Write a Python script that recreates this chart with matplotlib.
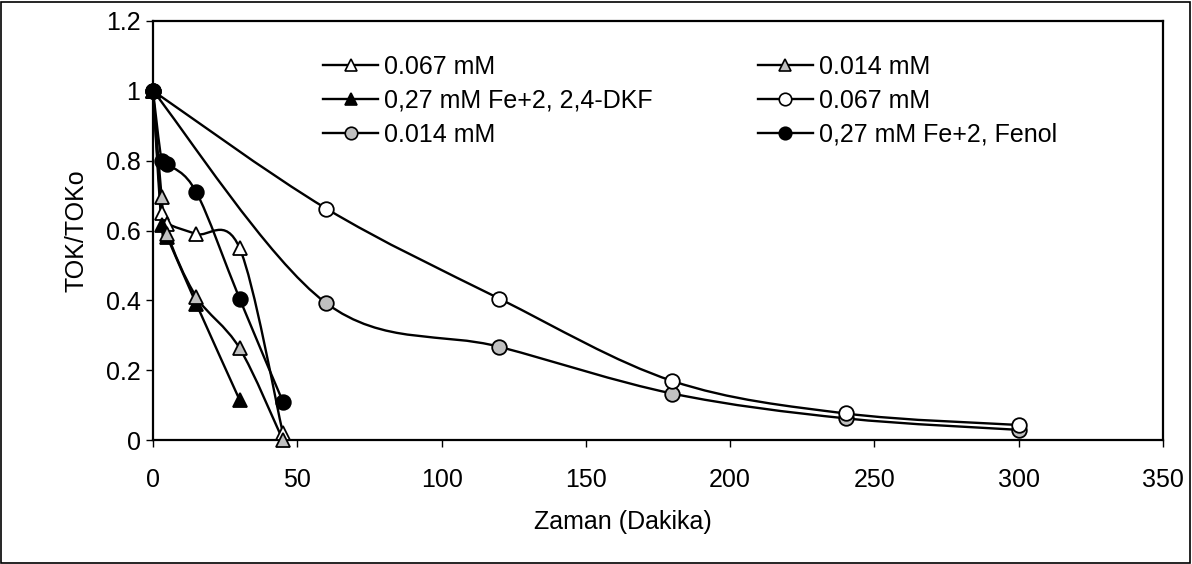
import numpy as np
import matplotlib
matplotlib.use('Agg')
import matplotlib.pyplot as plt
from matplotlib.path import Path
from matplotlib.patches import PathPatch, Rectangle
from matplotlib.lines import Line2D

plt.rcParams['font.family'] = ['Liberation Sans', 'DejaVu Sans']

# data
x_tri_067 = [0, 3, 5, 15, 30, 45]
y_tri_067 = [1.0, 0.65, 0.62, 0.59, 0.55, 0.02]

x_tri_dkf = [0, 3, 5, 15, 30]
y_tri_dkf = [1.0, 0.615, 0.58, 0.39, 0.115]

x_cir_014 = [0, 60, 120, 180, 240, 300]
y_cir_014 = [1.0, 0.392, 0.267, 0.133, 0.062, 0.029]

x_tri_014 = [0, 3, 5, 15, 30, 45]
y_tri_014 = [1.0, 0.695, 0.59, 0.41, 0.263, 0.0]

x_cir_067 = [0, 60, 120, 180, 240, 300]
y_cir_067 = [1.0, 0.663, 0.405, 0.169, 0.076, 0.043]

x_fenol = [0, 3, 5, 15, 30, 45]
y_fenol = [1.0, 0.80, 0.79, 0.71, 0.405, 0.11]

labels = ['0.067 mM', '0,27 mM Fe+2, 2,4-DKF', '0.014 mM',
          '0.014 mM', '0.067 mM', '0,27 mM Fe+2, Fenol']

GREY = '#C0C0C0'


def smooth_path(xs, ys):
    # excel-like smoothed line (catmull-rom as bezier segments)
    pts = np.column_stack([xs, ys]).astype(float)
    verts = [pts[0]]
    codes = [Path.MOVETO]
    n = len(pts)
    for i in range(n - 1):
        p0 = pts[i - 1] if i > 0 else pts[i]
        p1 = pts[i]
        p2 = pts[i + 1]
        p3 = pts[i + 2] if i + 2 < n else pts[i + 1]
        verts += [p1 + (p2 - p0) / 6, p2 - (p3 - p1) / 6, p2]
        codes += [Path.CURVE4] * 3
    return Path(verts, codes)


fig = plt.figure(figsize=(11.92, 5.64), dpi=100)
ax = fig.add_axes([153 / 1192, 1 - 440 / 564, 1010 / 1192, 419 / 564])

series = [
    (x_tri_067, y_tri_067, '^', 'white', 10),
    (x_tri_dkf, y_tri_dkf, '^', 'black', 10),
    (x_cir_014, y_cir_014, 'o', GREY, 10.5),
    (x_tri_014, y_tri_014, '^', GREY, 10),
    (x_cir_067, y_cir_067, 'o', 'white', 10.5),
    (x_fenol, y_fenol, 'o', 'black', 10.5),
]

handles = []
for (xs, ys, m, fc, ms), lab in zip(series, labels):
    ax.add_patch(PathPatch(smooth_path(xs, ys), fill=False, edgecolor='black',
                           lw=1.7, clip_on=False, zorder=2))
    ax.plot(xs, ys, ls='none', marker=m, mfc=fc, mec='black', mew=1.3,
            ms=ms, clip_on=False, zorder=3)
    handles.append(Line2D([], [], color='black', lw=1.7, marker=m, mfc=fc,
                          mec='black', mew=1.2, ms=ms - 1.5, label=lab))

ax.set_xlim(0, 350)
ax.set_ylim(0, 1.2)
ax.set_xticks(np.arange(0, 351, 50))
ax.set_yticks(np.arange(0, 1.21, 0.2))
ax.set_yticklabels(['0', '0.2', '0.4', '0.6', '0.8', '1', '1.2'])
ax.tick_params(labelsize=18, length=5, width=1, direction='out')
ax.tick_params(axis='x', pad=15)
ax.tick_params(axis='y', pad=4)
for s in ax.spines.values():
    s.set_linewidth(1.6)

ax.set_xlabel('Zaman (Dakika)', fontsize=18)
ax.set_ylabel('TOK/TOKo', fontsize=18)
ax.xaxis.set_label_coords((623 - 153) / 1010, -(510 - 440) / 419)
ax.yaxis.set_label_coords(-(153 - 88) / 1010, 0.5)

fig.legend(handles=handles, ncol=2, frameon=False, fontsize=18,
           loc='upper left', bbox_to_anchor=(323 / 1192, 1 - 55 / 564),
           borderpad=0, borderaxespad=0, handlelength=2.2,
           handletextpad=0.25, columnspacing=4.2, labelspacing=0.4)

fig.add_artist(Rectangle((1 / 1192, 1 / 564), 1189 / 1192, 561 / 564,
                         transform=fig.transFigure, fill=False,
                         edgecolor='black', lw=1.2))

fig.savefig('out.png', dpi=100)
